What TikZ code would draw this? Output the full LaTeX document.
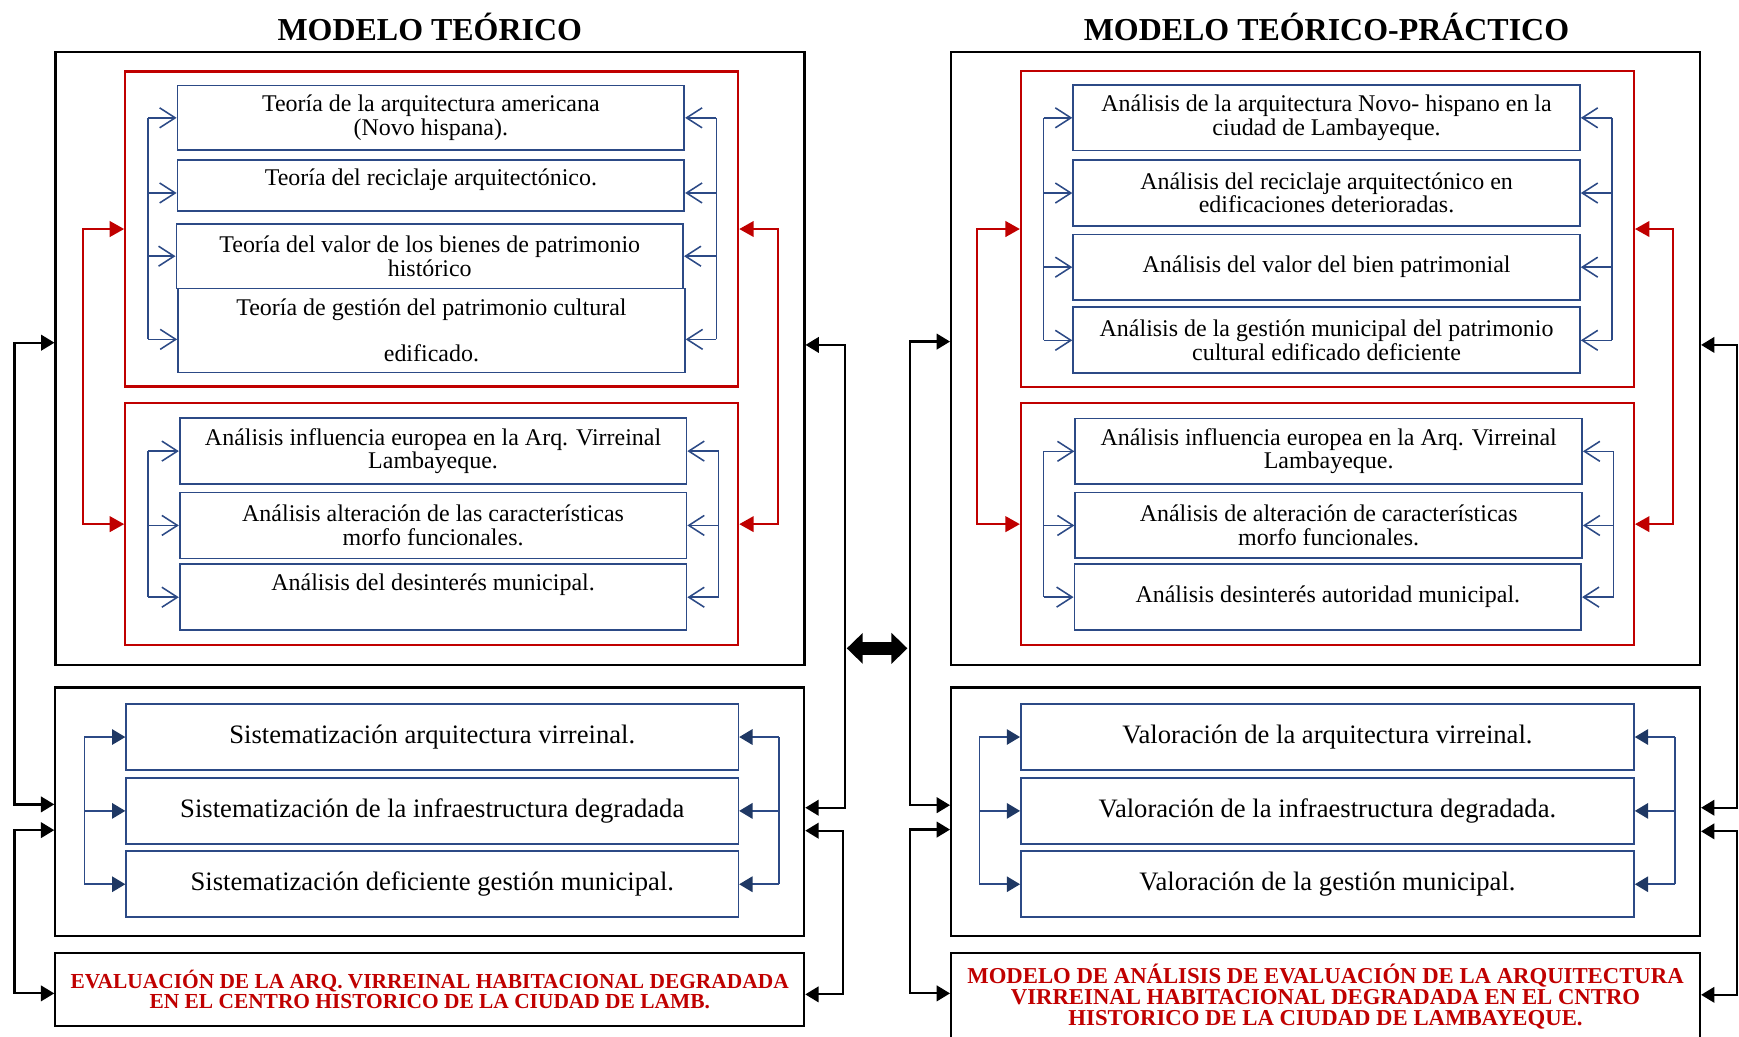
\documentclass[tikz,border=0pt]{standalone}
\usepackage{fontspec}
\setmainfont{Liberation Serif}
\usetikzlibrary{arrows.meta}

\definecolor{boxblue}{RGB}{44,74,134}
\definecolor{navyblue}{RGB}{31,56,100}
\definecolor{darkred}{RGB}{192,0,0}

\tikzset{
	marco/.style={draw=black, line width=1pt, minimum width=337.6pt, inner sep=0pt},
	grupo/.style={draw=darkred, line width=1pt, minimum width=276.3pt, inner sep=0pt},
	teoria/.style={draw=boxblue, line width=0.75pt, minimum width=228.5pt, minimum height=29.5pt, inner sep=0pt, align=center, font=\fontsize{10.8}{10.5}\selectfont},
	valor/.style={draw=boxblue, line width=0.75pt, minimum width=276pt, minimum height=29.75pt, inner sep=0pt, align=center, font=\fontsize{12}{13}\selectfont},
	final/.style={draw=black, line width=1pt, minimum width=337.6pt, inner sep=0pt, align=center, text=darkred, font=\bfseries\fontsize{9.65}{9}\selectfont},
	titulo/.style={font=\bfseries\fontsize{14.4}{16}\selectfont},
	bus/.style={draw=boxblue, line width=0.7pt},
	barb/.style={draw=boxblue, line width=0.7pt, -{Straight Barb[length=7pt,width=9pt]}},
	tri/.style={draw=boxblue, line width=0.7pt, -{Triangle[length=6pt,width=7pt,color=navyblue,fill=navyblue]}},
	flecharoja/.style={draw=darkred, line width=1pt, {Triangle[length=6.5pt,width=7pt]}-{Triangle[length=6.5pt,width=7pt]}},
	flechanegra/.style={draw=black, line width=1pt, {Triangle[length=6pt,width=7pt]}-{Triangle[length=6pt,width=7pt]}},
	flechadoble/.style={draw=black, line width=5.7pt, {Triangle[length=7.2pt,width=13.5pt]}-{Triangle[length=7.2pt,width=13.5pt]}}
}

\begin{document}
\begin{tikzpicture}[x=0.5pt, y=-0.5pt]
	\useasboundingbox (0,0) rectangle (1568,935);
	\clip (0,0) rectangle (1568,935);

	\node[titulo] (TT) at (387.5,24) {MODELO TEÓRICO};
	\node[titulo] (PT) at (1196,24) {MODELO TEÓRICO-PRÁCTICO};

	\node[marco, minimum height=276.3pt] (TF_1) at (387.7,323.5) {};
	\node[grupo, minimum height=142pt] (TR_1) at (389.25,206.5) {};
	\node[grupo, minimum height=109pt] (TR_2) at (389.25,472.6) {};
	\node[teoria, minimum height=29.25pt] (T_1_1) at (388.5,106.25) {Teoría de la arquitectura americana\\(Novo hispana).};
	\node[teoria, minimum height=23pt] (T_1_2) at (388.5,167.5) {Teoría del reciclaje arquitectónico.\\[-3pt]\mbox{}};
	\node[teoria, minimum height=29pt] (T_1_3) at (387.5,231) {Teoría del valor de los bienes de patrimonio\\histórico};
	\node[teoria, minimum height=38pt] (T_1_4) at (389,298) {Teoría de gestión del patrimonio cultural\\[10pt]edificado.};
	\node[teoria, minimum height=29.75pt] (T_2_1) at (390.5,406.75) {Análisis influencia europea en la Arq. Virreinal\\Lambayeque.};
	\node[teoria, minimum height=29.75pt] (T_2_2) at (390.5,473.75) {Análisis alteración de las características\\morfo funcionales.};
	\node[teoria, minimum height=29.75pt] (T_2_3) at (390.5,538.5) {Análisis del desinterés municipal.\\[3pt]\mbox{}};
	\node[marco, minimum height=112pt] (TF_2) at (387.5,731.8) {};
	\node[valor] (T_3_1) at (389.75,664.55) {Sistematización arquitectura virreinal.};
	\node[valor] (T_3_2) at (389.75,731.15) {Sistematización de la infraestructura degradada};
	\node[valor] (T_3_3) at (389.75,797.3) {Sistematización deficiente gestión municipal.};
	\node[final, minimum height=32.7pt] (T_4) at (387.5,892.3) {EVALUACIÓN DE LA ARQ. VIRREINAL HABITACIONAL DEGRADADA\\EN EL CENTRO HISTORICO DE LA CIUDAD DE LAMB.};

	\node[marco, minimum height=276.3pt] (PF_1) at (1195.2,323.5) {};
	\node[grupo, minimum height=142.2pt] (PR_1) at (1196.9,206.5) {};
	\node[grupo, minimum height=109pt] (PR_2) at (1196.9,472.6) {};
	\node[teoria, minimum height=29.6pt] (P_1_1) at (1196.1,106.25) {Análisis de la arquitectura Novo- hispano en la\\ciudad de Lambayeque.};
	\node[teoria, minimum height=29.75pt] (P_1_2) at (1196.1,174.05) {Análisis del reciclaje arquitectónico en\\edificaciones deterioradas.};
	\node[teoria, minimum height=29.6pt] (P_1_3) at (1196.1,240.9) {Análisis del valor del bien patrimonial};
	\node[teoria, minimum height=29.75pt] (P_1_4) at (1196.1,306.85) {Análisis de la gestión municipal del patrimonio\\cultural edificado deficiente};
	\node[teoria, minimum height=29.75pt] (P_2_1) at (1198,406.95) {Análisis influencia europea en la Arq. Virreinal\\Lambayeque.};
	\node[teoria, minimum height=29.6pt] (P_2_2) at (1198,473.8) {Análisis de alteración de características\\morfo funcionales.};
	\node[teoria, minimum height=29.6pt] (P_2_3) at (1197.25,538.4) {Análisis desinterés autoridad municipal.};
	\node[marco, minimum height=112pt] (PF_2) at (1195.2,731.8) {};
	\node[valor, minimum width=276.4pt] (P_3_1) at (1196.9,664.55) {Valoración de la arquitectura virreinal.};
	\node[valor, minimum width=276.4pt] (P_3_2) at (1196.9,731.15) {Valoración de la infraestructura degradada.};
	\node[valor, minimum width=276.4pt] (P_3_3) at (1196.9,797.3) {Valoración de la gestión municipal.};
	\node[final, minimum height=39pt, font=\bfseries\fontsize{10.25}{9.25}\selectfont] (P_4) at (1195.2,898.6) {MODELO DE ANÁLISIS DE EVALUACIÓN DE LA ARQUITECTURA\\VIRREINAL HABITACIONAL DEGRADADA EN EL CNTRO\\HISTORICO DE LA CIUDAD DE LAMBAYEQUE.};

	\coordinate (bT_1) at (133.6,0);
	\coordinate (bT_2) at (646,0);
	\coordinate (bT_3) at (648,0);
	\coordinate (bT_4) at (76,0);
	\coordinate (bT_5) at (702.5,0);
	\coordinate (aT_2) at ([yshift=-3.25pt]T_1_2.center);
	\coordinate (aT_4) at ([yshift=-4pt]T_1_4.center);
	\draw[bus] (bT_1 |- T_1_1) -- (bT_1 |- aT_4);
	\draw[barb] (bT_1 |- T_1_1) -- (T_1_1.west);
	\draw[barb] (bT_1 |- aT_2) -- (T_1_2.west |- aT_2);
	\draw[barb] (bT_1 |- T_1_3) -- (T_1_3.west);
	\draw[barb] (bT_1 |- aT_4) -- (T_1_4.west |- aT_4);
	\draw[bus] (bT_2 |- T_1_1) -- (bT_2 |- aT_4);
	\draw[barb] (bT_2 |- T_1_1) -- (T_1_1.east);
	\draw[barb] (bT_2 |- aT_2) -- (T_1_2.east |- aT_2);
	\draw[barb] (bT_2 |- T_1_3) -- (T_1_3.east);
	\draw[barb] (bT_2 |- aT_4) -- (T_1_4.east |- aT_4);
	\draw[bus] (bT_1 |- T_2_1) -- (bT_1 |- T_2_3);
	\draw[barb] (bT_1 |- T_2_1) -- (T_2_1.west);
	\draw[barb] (bT_1 |- T_2_2) -- (T_2_2.west);
	\draw[barb] (bT_1 |- T_2_3) -- (T_2_3.west);
	\draw[bus] (bT_3 |- T_2_1) -- (bT_3 |- T_2_3);
	\draw[barb] (bT_3 |- T_2_1) -- (T_2_1.east);
	\draw[barb] (bT_3 |- T_2_2) -- (T_2_2.east);
	\draw[barb] (bT_3 |- T_2_3) -- (T_2_3.east);
	\draw[bus] (bT_4 |- T_3_1) -- (bT_4 |- T_3_3);
	\draw[tri] (bT_4 |- T_3_1) -- (T_3_1.west);
	\draw[tri] (bT_4 |- T_3_2) -- (T_3_2.west);
	\draw[tri] (bT_4 |- T_3_3) -- (T_3_3.west);
	\draw[bus] (bT_5 |- T_3_1) -- (bT_5 |- T_3_3);
	\draw[tri] (bT_5 |- T_3_1) -- (T_3_1.east);
	\draw[tri] (bT_5 |- T_3_2) -- (T_3_2.east);
	\draw[tri] (bT_5 |- T_3_3) -- (T_3_3.east);

	\coordinate (bP_1) at (941,0);
	\coordinate (bP_2) at (1453.3,0);
	\coordinate (bP_3) at (1455,0);
	\coordinate (bP_4) at (883,0);
	\coordinate (bP_5) at (1510.3,0);
	\draw[bus] (bP_1 |- P_1_1) -- (bP_1 |- P_1_4);
	\draw[barb] (bP_1 |- P_1_1) -- (P_1_1.west);
	\draw[barb] (bP_1 |- P_1_2) -- (P_1_2.west);
	\draw[barb] (bP_1 |- P_1_3) -- (P_1_3.west);
	\draw[barb] (bP_1 |- P_1_4) -- (P_1_4.west);
	\draw[bus] (bP_2 |- P_1_1) -- (bP_2 |- P_1_4);
	\draw[barb] (bP_2 |- P_1_1) -- (P_1_1.east);
	\draw[barb] (bP_2 |- P_1_2) -- (P_1_2.east);
	\draw[barb] (bP_2 |- P_1_3) -- (P_1_3.east);
	\draw[barb] (bP_2 |- P_1_4) -- (P_1_4.east);
	\draw[bus] (bP_1 |- P_2_1) -- (bP_1 |- P_2_3);
	\draw[barb] (bP_1 |- P_2_1) -- (P_2_1.west);
	\draw[barb] (bP_1 |- P_2_2) -- (P_2_2.west);
	\draw[barb] (bP_1 |- P_2_3) -- (P_2_3.west);
	\draw[bus] (bP_3 |- P_2_1) -- (bP_3 |- P_2_3);
	\draw[barb] (bP_3 |- P_2_1) -- (P_2_1.east);
	\draw[barb] (bP_3 |- P_2_2) -- (P_2_2.east);
	\draw[barb] (bP_3 |- P_2_3) -- (P_2_3.east);
	\draw[bus] (bP_4 |- P_3_1) -- (bP_4 |- P_3_3);
	\draw[tri] (bP_4 |- P_3_1) -- (P_3_1.west);
	\draw[tri] (bP_4 |- P_3_2) -- (P_3_2.west);
	\draw[tri] (bP_4 |- P_3_3) -- (P_3_3.west);
	\draw[bus] (bP_5 |- P_3_1) -- (bP_5 |- P_3_3);
	\draw[tri] (bP_5 |- P_3_1) -- (P_3_1.east);
	\draw[tri] (bP_5 |- P_3_2) -- (P_3_2.east);
	\draw[tri] (bP_5 |- P_3_3) -- (P_3_3.east);

	\coordinate (rT_1) at (75,340);
	\coordinate (rT_2) at (701.5,340);
	\coordinate (rP_1) at (881,340);
	\coordinate (rP_2) at (1508.3,340);
	\draw[flecharoja] (TR_1.west) -| (rT_1) |- (TR_2.west);
	\draw[flecharoja] (TR_1.east) -| (rT_2) |- (TR_2.east);
	\draw[flecharoja] (PR_1.west) -| (rP_1) |- (PR_2.west);
	\draw[flecharoja] (PR_1.east) -| (rP_2) |- (PR_2.east);

	\coordinate (oT_1) at (13,500);
	\coordinate (oT_2) at (13,820);
	\coordinate (oT_3) at (762,500);
	\coordinate (oT_4) at (760,820);
	\coordinate (oP_1) at (820.6,500);
	\coordinate (oP_2) at (820.6,820);
	\coordinate (oP_3) at (1566,500);
	\coordinate (oP_4) at (1566,820);
	\draw[flechanegra] ([yshift=7.25pt]TF_1.west) -| (oT_1) |- ([yshift=3.25pt]TF_2.west);
	\draw[flechanegra] ([yshift=-8.35pt]TF_2.west) -| (oT_2) |- ([yshift=-1.7pt]T_4.west);
	\draw[flechanegra] ([yshift=6.25pt]TF_1.east) -| (oT_3) |- ([yshift=1.75pt]TF_2.east);
	\draw[flechanegra] ([yshift=-8.6pt]TF_2.east) -| (oT_4) |- ([yshift=-2.15pt]T_4.east);
	\draw[flechanegra] ([yshift=7.75pt]PF_1.west) -| (oP_1) |- ([yshift=2.9pt]PF_2.west);
	\draw[flechanegra] ([yshift=-8.1pt]PF_2.west) -| (oP_2) |- ([yshift=1.45pt]P_4.west);
	\draw[flechanegra] ([yshift=6.25pt]PF_1.east) -| (oP_3) |- ([yshift=1.75pt]PF_2.east);
	\draw[flechanegra] ([yshift=-8.9pt]PF_2.east) -| (oP_4) |- ([yshift=0.8pt]P_4.east);

	\coordinate (dA_1) at (763.5,584.6);
	\coordinate (dA_2) at (818.2,584.6);
	\draw[flechadoble] (dA_1) -- (dA_2);
\end{tikzpicture}
\end{document}
